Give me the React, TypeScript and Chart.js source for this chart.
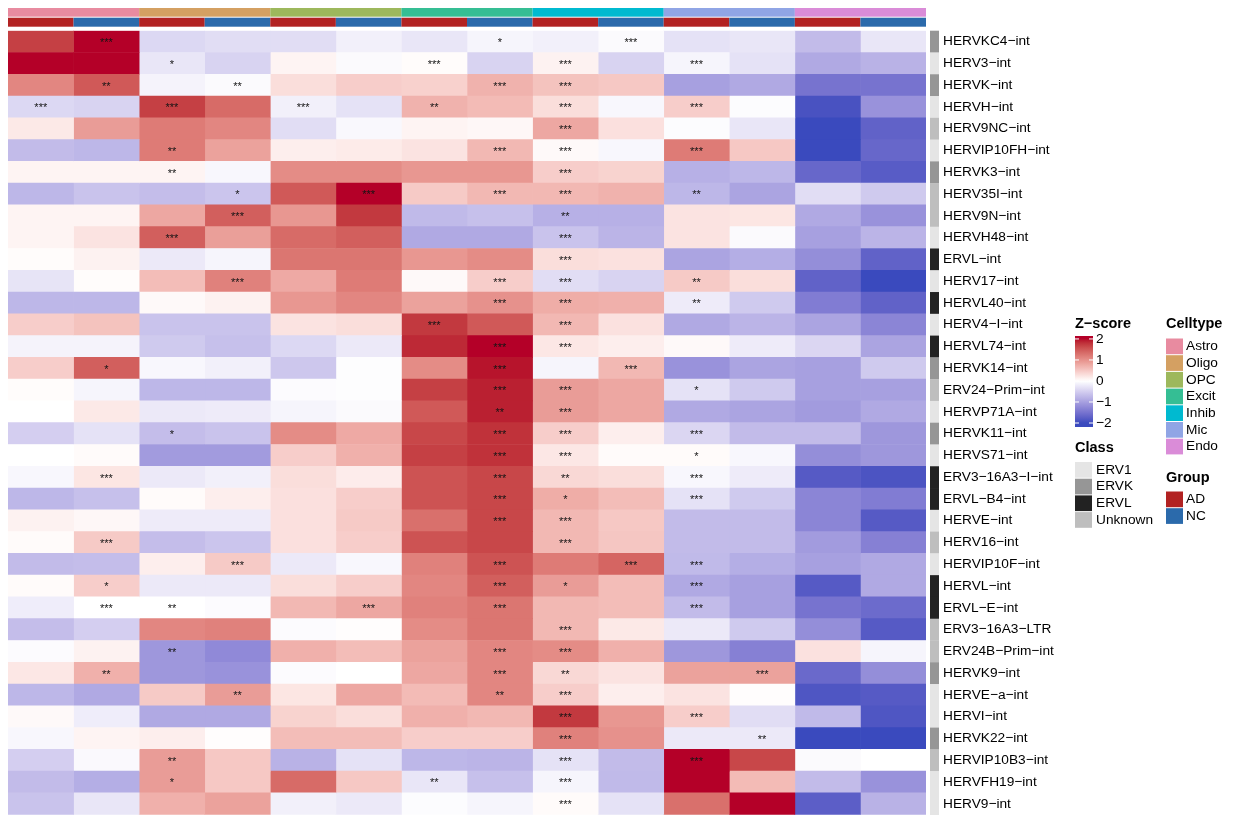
import React, { useEffect, useRef } from "react";
import { Chart, registerables } from "chart.js";
Chart.register(...registerables);

const FAM = "'Liberation Sans', Arial, Helvetica, sans-serif";

const genes = ["HERVKC4-int","HERV3-int","HERVK-int","HERVH-int","HERV9NC-int","HERVIP10FH-int","HERVK3-int","HERV35I-int","HERV9N-int","HERVH48-int","ERVL-int","HERV17-int","HERVL40-int","HERV4-I-int","HERVL74-int","HERVK14-int","ERV24-Prim-int","HERVP71A-int","HERVK11-int","HERVS71-int","ERV3-16A3-I-int","ERVL-B4-int","HERVE-int","HERV16-int","HERVIP10F-int","HERVL-int","ERVL-E-int","ERV3-16A3-LTR","ERV24B-Prim-int","HERVK9-int","HERVE-a-int","HERVI-int","HERVK22-int","HERVIP10B3-int","HERVFH19-int","HERV9-int"];
const geneClass = ["ERVK","ERV1","ERVK","ERV1","Unknown","ERV1","ERVK","Unknown","Unknown","ERV1","ERVL","ERV1","ERVL","ERV1","ERVL","ERVK","Unknown","ERV1","ERVK","ERV1","ERVL","ERVL","ERV1","Unknown","ERV1","ERVL","ERVL","Unknown","Unknown","ERVK","ERV1","ERV1","ERVK","Unknown","ERV1","ERV1"];

const celltypes = ["Astro","Oligo","OPC","Excit","Inhib","Mic","Endo"];
const celltypeColors = ["#E88BA0","#D4A062","#9DB85C","#35BE94","#00BAD0","#90A5E5","#DA8CD8"];
const groups = ["AD","NC"];
const groupColors = ["#B22222","#2B6AAB"];
const classNames = ["ERV1","ERVK","ERVL","Unknown"];
const classColors = ["#E5E5E5","#969696","#222222","#BEBEBE"];
const zTicks = [2,1,0,-1,-2];

// z-scores per column (rows follow genes order)
const zAstroAD = [1.7,2.2,1.1,-0.4,0.2,-0.7,0.1,-0.75,0.1,0.1,0.03,-0.28,-0.75,0.45,-0.12,0.45,0.03,0.0,-0.5,0.0,-0.08,-0.75,0.12,0.04,-0.7,0.04,-0.18,-0.68,-0.04,0.22,-0.75,0.05,-0.08,-0.5,-0.7,-0.62];
const zAstroNC = [2.2,2.2,1.5,-0.45,0.9,-0.75,0.1,-0.62,0.1,0.25,0.12,0.03,-0.75,0.55,-0.12,1.45,-0.1,0.2,-0.3,0.04,0.23,-0.65,0.07,0.48,-0.68,0.45,0.0,-0.5,0.12,0.72,-0.9,-0.18,0.1,-0.06,-0.85,-0.25];
const zOligoAD = [-0.4,-0.25,-0.12,1.7,1.2,1.2,0.1,-0.68,0.8,1.45,-0.22,0.6,0.05,-0.62,-0.55,-0.08,-0.75,-0.22,-0.68,-1.05,-0.22,0.04,-0.2,-0.68,0.15,-0.22,0.0,1.1,-1.1,-1.1,0.48,-0.9,0.15,0.9,0.9,0.72];
const zOligoNC = [-0.35,-0.45,-0.05,1.35,1.1,0.85,-0.08,-0.6,1.45,0.88,-0.1,1.15,0.12,-0.62,-0.65,-0.15,-0.75,-0.2,-0.62,-1.05,-0.15,0.15,-0.2,-0.6,0.48,-0.22,-0.04,1.15,-1.25,-1.15,0.9,-0.9,0.02,0.5,0.5,0.85];
const zOPCAD = [-0.35,0.1,0.3,-0.15,-0.35,0.15,1.05,1.5,0.95,1.35,1.25,0.78,0.95,0.25,-0.4,-0.58,-0.04,-0.1,1.05,0.45,0.3,0.28,0.28,0.28,-0.22,0.3,0.65,-0.04,0.72,-0.04,0.23,0.4,0.6,-0.8,1.35,-0.15];
const zOPCNC = [-0.15,-0.05,0.45,-0.3,-0.07,0.18,1.05,2.2,1.75,1.45,1.25,1.2,1.1,0.3,-0.22,-0.02,-0.02,-0.05,0.78,0.72,0.17,0.45,0.48,0.45,-0.08,0.45,0.8,0.02,0.6,0.0,0.8,0.3,0.6,-0.3,0.5,-0.22];
const zExcitAD = [-0.25,0.03,0.42,0.7,0.1,0.25,0.95,0.48,-0.72,-0.9,0.95,0.05,0.85,1.75,1.85,1.05,1.7,1.5,1.65,1.7,1.55,1.55,1.3,1.55,1.15,1.1,1.15,1.05,0.85,0.8,0.62,0.72,0.45,-0.75,-0.25,-0.03];
const zExcitNC = [-0.1,-0.45,0.7,0.62,0.07,0.65,0.95,0.65,-0.65,-0.9,1.05,0.45,1.0,1.5,2.2,1.95,1.9,1.9,1.8,1.8,1.65,1.65,1.65,1.65,1.55,1.45,1.25,1.25,1.1,1.1,1.1,0.65,0.45,-0.78,-0.65,-0.1];
const zInhibAD = [-0.15,0.12,0.55,0.3,0.8,0.05,0.45,0.65,-0.82,-0.62,0.3,-0.35,0.75,0.65,0.22,-0.1,0.9,0.9,0.45,0.22,0.35,0.75,0.65,0.65,1.2,0.9,0.65,0.65,1.05,0.35,0.45,1.75,1.15,-0.3,-0.1,0.04];
const zInhibNC = [-0.05,-0.45,0.5,-0.08,0.28,-0.08,0.4,0.7,-0.82,-0.78,0.27,-0.45,0.72,0.27,0.15,0.65,0.8,0.8,0.15,0.04,0.3,0.6,0.5,0.52,1.4,0.6,0.6,0.2,0.72,0.25,0.15,0.95,1.0,-0.7,-0.72,-0.3];
const zMicAD = [-0.3,-0.1,-1.0,0.45,-0.03,1.2,-0.82,-0.75,0.25,0.25,-0.95,0.48,-0.2,-0.9,0.05,-1.15,-0.3,-0.9,-0.42,0.04,-0.08,-0.3,-0.7,-0.7,-0.72,-0.9,-0.7,-0.22,-1.1,0.85,0.25,0.45,-0.22,2.2,2.0,1.3];
const zMicNC = [-0.25,-0.3,-0.9,-0.03,-0.25,0.5,-0.75,-0.95,0.23,-0.05,-0.85,0.3,-0.55,-0.78,-0.2,-0.95,-0.55,-0.95,-0.7,-0.08,-0.2,-0.55,-0.7,-0.7,-0.85,-1.0,-1.0,-0.55,-1.35,0.85,0.02,-0.35,-0.22,1.65,0.62,2.2];
const zEndoAD = [-0.7,-0.9,-1.5,-1.9,-2.0,-2.0,-1.65,-0.35,-0.9,-1.0,-1.2,-1.7,-1.4,-0.95,-0.42,-1.0,-1.0,-1.05,-0.7,-1.2,-1.8,-1.3,-1.3,-1.05,-1.0,-1.8,-1.5,-1.2,0.27,-1.62,-1.85,-0.72,-2.0,-0.05,-0.7,-1.75];
const zEndoNC = [-0.25,-0.8,-1.5,-1.15,-1.7,-1.65,-1.78,-0.55,-1.15,-0.78,-1.7,-2.0,-1.7,-1.3,-0.95,-0.55,-1.0,-0.9,-1.1,-1.1,-1.88,-1.4,-1.8,-1.35,-0.9,-0.9,-1.6,-1.8,-0.1,-1.2,-1.8,-1.85,-2.0,0.0,-1.15,-0.8];

// significance stars (number of *) per column
const sAstroAD = [0,0,0,3,0,0,0,0,0,0,0,0,0,0,0,0,0,0,0,0,0,0,0,0,0,0,0,0,0,0,0,0,0,0,0,0];
const sAstroNC = [3,0,2,0,0,0,0,0,0,0,0,0,0,0,0,1,0,0,0,0,3,0,0,3,0,1,3,0,0,2,0,0,0,0,0,0];
const sOligoAD = [0,1,0,3,0,2,2,0,0,3,0,0,0,0,0,0,0,0,1,0,0,0,0,0,0,0,2,0,2,0,0,0,0,2,1,0];
const sOligoNC = [0,0,2,0,0,0,0,1,3,0,0,3,0,0,0,0,0,0,0,0,0,0,0,0,3,0,0,0,0,0,2,0,0,0,0,0];
const sOPCAD = [0,0,0,3,0,0,0,0,0,0,0,0,0,0,0,0,0,0,0,0,0,0,0,0,0,0,0,0,0,0,0,0,0,0,0,0];
const sOPCNC = [0,0,0,0,0,0,0,3,0,0,0,0,0,0,0,0,0,0,0,0,0,0,0,0,0,0,3,0,0,0,0,0,0,0,0,0];
const sExcitAD = [0,3,0,2,0,0,0,0,0,0,0,0,0,3,0,0,0,0,0,0,0,0,0,0,0,0,0,0,0,0,0,0,0,0,2,0];
const sExcitNC = [1,0,3,0,0,3,0,3,0,0,0,3,3,0,3,3,3,2,3,3,3,3,3,0,3,3,3,0,3,3,2,0,0,0,0,0];
const sInhibAD = [0,3,3,3,3,3,3,3,2,3,3,3,3,3,3,0,3,3,3,3,2,1,3,3,0,1,0,3,3,2,3,3,3,3,3,3];
const sInhibNC = [3,0,0,0,0,0,0,0,0,0,0,0,0,0,0,3,0,0,0,0,0,0,0,0,3,0,0,0,0,0,0,0,0,0,0,0];
const sMicAD = [0,3,0,3,0,3,0,2,0,0,0,2,2,0,0,0,1,0,3,1,3,3,0,0,3,3,3,0,0,0,0,3,0,3,0,0];
const sMicNC = [0,0,0,0,0,0,0,0,0,0,0,0,0,0,0,0,0,0,0,0,0,0,0,0,0,0,0,0,0,3,0,0,2,0,0,0];
const sEndoAD = [0,0,0,0,0,0,0,0,0,0,0,0,0,0,0,0,0,0,0,0,0,0,0,0,0,0,0,0,0,0,0,0,0,0,0,0];
const sEndoNC = [0,0,0,0,0,0,0,0,0,0,0,0,0,0,0,0,0,0,0,0,0,0,0,0,0,0,0,0,0,0,0,0,0,0,0,0];

const zCols = [zAstroAD,zAstroNC,zOligoAD,zOligoNC,zOPCAD,zOPCNC,zExcitAD,zExcitNC,zInhibAD,zInhibNC,zMicAD,zMicNC,zEndoAD,zEndoNC];
const sCols = [sAstroAD,sAstroNC,sOligoAD,sOligoNC,sOPCAD,sOPCNC,sExcitAD,sExcitNC,sInhibAD,sInhibNC,sMicAD,sMicNC,sEndoAD,sEndoNC];

const disp = (s: string) => s.replace(/-/g, "\u2212");

// ---- LAB colour ramp (-2 blue, 0 white, 2 red) ----
const LOW = [58, 74, 190];
const MID = [255, 255, 255];
const HIGH = [180, 0, 40];
const toLin = (c: number) => { c /= 255; return c <= 0.04045 ? c / 12.92 : Math.pow((c + 0.055) / 1.055, 2.4); };
const toSrgb = (c: number) => { const v = c <= 0.0031308 ? 12.92 * c : 1.055 * Math.pow(c, 1 / 2.4) - 0.055; return Math.round(Math.max(0, Math.min(1, v)) * 255); };
const fLab = (t: number) => t > 0.008856 ? Math.cbrt(t) : 7.787 * t + 16 / 116;
const fInv = (t: number) => t > 0.206893 ? t * t * t : (t - 16 / 116) / 7.787;
function rgb2lab(c: number[]) {
  const r = toLin(c[0]), g = toLin(c[1]), b = toLin(c[2]);
  const X = (0.4124 * r + 0.3576 * g + 0.1805 * b) / 0.95047;
  const Y = 0.2126 * r + 0.7152 * g + 0.0722 * b;
  const Z = (0.0193 * r + 0.1192 * g + 0.9505 * b) / 1.08883;
  const fx = fLab(X), fy = fLab(Y), fz = fLab(Z);
  return [116 * fy - 16, 500 * (fx - fy), 200 * (fy - fz)];
}
function lab2rgb(l: number[]) {
  const fy = (l[0] + 16) / 116, fx = fy + l[1] / 500, fz = fy - l[2] / 200;
  const X = fInv(fx) * 0.95047, Y = fInv(fy), Z = fInv(fz) * 1.08883;
  const r = 3.2406 * X - 1.5372 * Y - 0.4986 * Z;
  const g = -0.9689 * X + 1.8758 * Y + 0.0415 * Z;
  const b = 0.0557 * X - 0.204 * Y + 1.057 * Z;
  return [toSrgb(r), toSrgb(g), toSrgb(b)];
}
const LAB_LOW = rgb2lab(LOW), LAB_MID = rgb2lab(MID), LAB_HIGH = rgb2lab(HIGH);
function zColor(v: number) {
  const c = Math.max(-2, Math.min(2, v));
  const a = LAB_MID;
  const b = c < 0 ? LAB_LOW : LAB_HIGH;
  const t = Math.abs(c) / 2;
  const lab = [a[0] + (b[0] - a[0]) * t, a[1] + (b[1] - a[1]) * t, a[2] + (b[2] - a[2]) * t];
  const rgb = lab2rgb(lab);
  return `rgb(${rgb[0]},${rgb[1]},${rgb[2]})`;
}

const decorPlugin = {
  id: "heatDecor",
  afterDatasetsDraw(chart: any) {
    const { ctx, chartArea: ca, scales } = chart;
    const xs = scales.x, ys = scales.y;
    const rowH = Math.abs(ys.getPixelForValue(1) - ys.getPixelForValue(0));
    ctx.save();
    // stars
    ctx.fillStyle = "#141414";
    ctx.font = `11px ${FAM}`;
    ctx.textAlign = "center";
    ctx.textBaseline = "middle";
    sCols.forEach((col, j) => {
      const cx = (xs.getPixelForValue(j) + xs.getPixelForValue(j + 1)) / 2;
      col.forEach((n, i) => {
        if (!n) return;
        ctx.fillText("*".repeat(n), cx, ys.getPixelForValue(i) + 1.4);
      });
    });
    // top annotations
    celltypes.forEach((_, k) => {
      const x0 = xs.getPixelForValue(2 * k), x1 = xs.getPixelForValue(2 * k + 2);
      ctx.fillStyle = celltypeColors[k];
      ctx.fillRect(x0, ca.top - 22.7, x1 - x0, 8.7);
      groups.forEach((__, g) => {
        const gx0 = xs.getPixelForValue(2 * k + g), gx1 = xs.getPixelForValue(2 * k + g + 1);
        ctx.fillStyle = groupColors[g];
        ctx.fillRect(gx0, ca.top - 13, gx1 - gx0, 9);
      });
    });
    // class bar
    geneClass.forEach((cl, i) => {
      const cy = ys.getPixelForValue(i);
      ctx.fillStyle = classColors[classNames.indexOf(cl)];
      ctx.fillRect(ca.right + 4, cy - rowH / 2, 9, rowH + 0.3);
    });
    ctx.restore();
  },
  afterDraw(chart: any) {
    const ctx = chart.ctx;
    ctx.save();
    ctx.textBaseline = "middle";
    ctx.textAlign = "left";
    ctx.fillStyle = "#000";
    ctx.font = `bold 14.5px ${FAM}`;
    ctx.fillText("Z\u2212score", 1075, 324);
    ctx.fillText("Celltype", 1166, 324);
    ctx.fillText("Class", 1075, 448);
    ctx.fillText("Group", 1166, 478);
    // gradient
    const gTop = 336, gBot = 427, gx = 1075, gw = 18;
    const vTop = 2.14, vBot = -2.19;
    const grad = ctx.createLinearGradient(0, gTop, 0, gBot);
    for (let k = 0; k <= 40; k++) {
      const t = k / 40;
      grad.addColorStop(t, zColor(vTop + (vBot - vTop) * t));
    }
    ctx.fillStyle = grad;
    ctx.fillRect(gx, gTop, gw, gBot - gTop);
    ctx.font = `13.7px ${FAM}`;
    zTicks.forEach((v) => {
      const yy = gTop + ((vTop - v) / (vTop - vBot)) * (gBot - gTop);
      ctx.strokeStyle = "#fff";
      ctx.lineWidth = 1;
      ctx.beginPath();
      ctx.moveTo(gx, yy); ctx.lineTo(gx + 4, yy);
      ctx.moveTo(gx + gw - 4, yy); ctx.lineTo(gx + gw, yy);
      ctx.stroke();
      ctx.fillStyle = "#000";
      ctx.fillText(v < 0 ? "\u2212" + Math.abs(v) : String(v), gx + gw + 3, yy);
    });
    const step = 16.7;
    celltypes.forEach((ct, k) => {
      const y0 = 338 + k * step;
      ctx.fillStyle = celltypeColors[k];
      ctx.fillRect(1166, y0 + 0.5, 17, step - 1);
      ctx.fillStyle = "#000";
      ctx.fillText(ct, 1186, y0 + step / 2);
    });
    classNames.forEach((cn, k) => {
      const y0 = 461.5 + k * step;
      ctx.fillStyle = classColors[k];
      ctx.fillRect(1075, y0 + 0.5, 17, step - 1);
      ctx.fillStyle = "#000";
      ctx.fillText(cn, 1096, y0 + step / 2);
    });
    groups.forEach((gn, k) => {
      const y0 = 491 + k * step;
      ctx.fillStyle = groupColors[k];
      ctx.fillRect(1166, y0 + 0.5, 17, step - 1);
      ctx.fillStyle = "#000";
      ctx.fillText(gn, 1186, y0 + step / 2);
    });
    ctx.restore();
  },
};

export default function App() {
  const ref = useRef<HTMLCanvasElement | null>(null);
  useEffect(() => {
    if (!ref.current) return;
    const datasets = zCols.map((col, j) => ({
      label: `col${j}`,
      data: col.map(() => [j, j + 1]),
      backgroundColor: col.map((v) => zColor(v)),
      borderWidth: 0,
      barPercentage: 1,
      categoryPercentage: 1,
      grouped: false,
    }));
    const chart = new Chart(ref.current, {
      type: "bar",
      data: { labels: genes.map(disp), datasets: datasets as any },
      options: {
        indexAxis: "y",
        animation: false,
        responsive: false,
        maintainAspectRatio: false,
        events: [],
        layout: { padding: { left: 8, top: 30.7, right: 0, bottom: 7.3 } },
        plugins: { legend: { display: false }, tooltip: { enabled: false } },
        scales: {
          x: { type: "linear", min: 0, max: 14, display: false },
          y: {
            type: "category",
            position: "right",
            offset: true,
            grid: { display: false, drawTicks: false },
            border: { display: false },
            ticks: { autoSkip: false, padding: 17, color: "#000", font: { family: FAM, size: 13.7 } },
            afterFit: (s: any) => { s.width = 308; s.paddingTop = 0; s.paddingBottom = 0; },
          },
        },
      } as any,
      plugins: [decorPlugin],
    });
    return () => chart.destroy();
  }, []);
  return (
    <div style={{ position: "absolute", left: 0, top: 0, width: 1234, height: 822, background: "#fff" }}>
      <canvas ref={ref} width={1234} height={822} style={{ width: 1234, height: 822, display: "block" }} />
    </div>
  );
}
